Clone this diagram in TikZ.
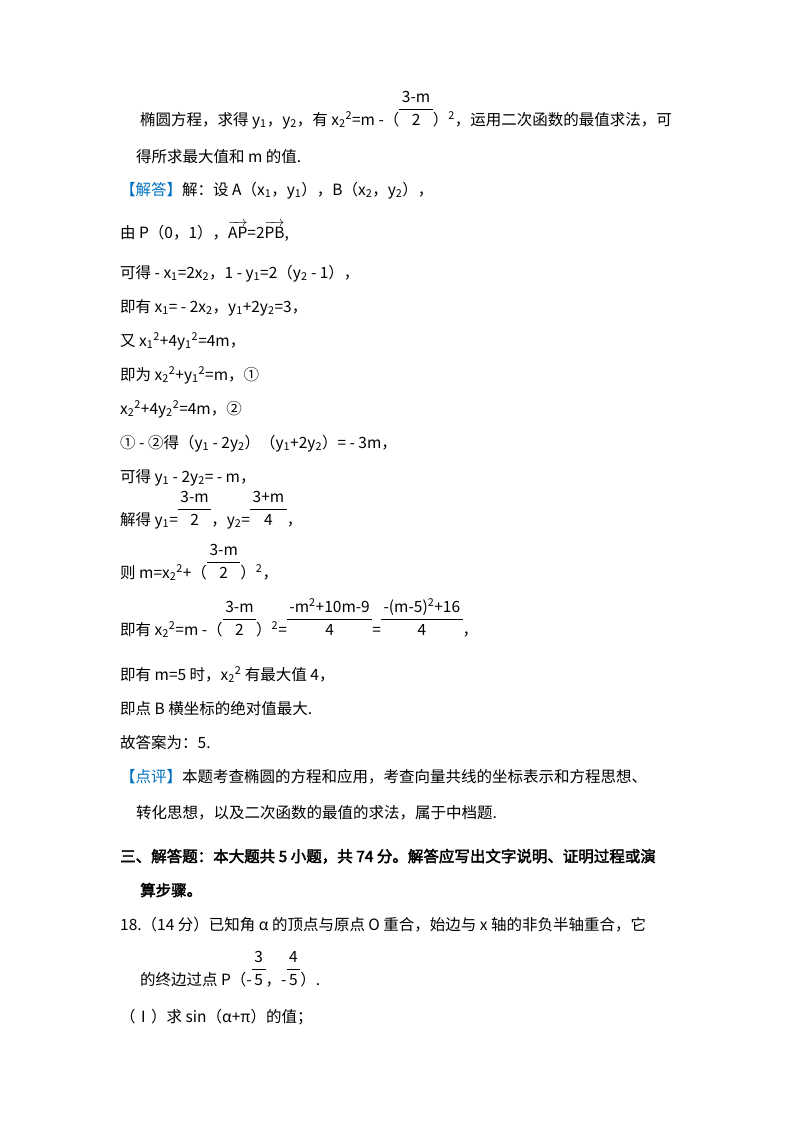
\documentclass[tikz,border=0pt]{standalone}
\usepackage{fontspec}
\usepackage{amsmath}
\setmainfont{Noto Sans CJK SC}
\newfontfamily\bcjk{Noto Sans CJK SC}[FakeBold=2.5]
\definecolor{jdblue}{RGB}{0,112,192}
\newcommand\sbs[1]{\textsubscript{#1}}
\newcommand\sps[1]{\textsuperscript{#1}}
\newcommand\fr[2]{{\renewcommand\arraystretch{1.25}\begin{tabular}[b]{@{\,}c@{\,}}#1\\\hline #2\end{tabular}}}
\newcommand\vecx[1]{$\overrightarrow{\mbox{#1}}$}
\tikzset{ln/.style={anchor=base west,inner sep=0pt,font=\fontsize{15.5}{18}\selectfont}}
\begin{document}
\begin{tikzpicture}[x=1pt,y=-1pt]
\useasboundingbox (0,0) rectangle (800,1132);
\node[ln] (l1) at (140,125) {椭圆方程，求得 y\sbs1，y\sbs2，有 x\sbs2\sps2=m -（\fr{3-m}{2}）\sps2，运用二次函数的最值求法，可};
\node[ln] (l2) at (136,162) {得所求最大值和 m 的值.};
\node[ln] (l3) at (120,195) {\textcolor{jdblue}{【解答】}解：设 A（x\sbs1，y\sbs1），B（x\sbs2，y\sbs2），};
\node[ln] (l4) at (120,238) {由 P（0，1），\vecx{AP}=2\vecx{PB},};
\node[ln] (l5) at (120,278) {可得 - x\sbs1=2x\sbs2，1 - y\sbs1=2（y\sbs2 - 1），};
\node[ln] (l6) at (120,312) {即有 x\sbs1= - 2x\sbs2，y\sbs1+2y\sbs2=3，};
\node[ln] (l7) at (120,346) {又 x\sbs1\sps2+4y\sbs1\sps2=4m，};
\node[ln] (l8) at (120,380) {即为 x\sbs2\sps2+y\sbs1\sps2=m，①};
\node[ln] (l9) at (120,414) {x\sbs2\sps2+4y\sbs2\sps2=4m，②};
\node[ln] (l10) at (120,448) {① - ②得（y\sbs1 - 2y\sbs2）（y\sbs1+2y\sbs2）= - 3m，};
\node[ln] (l11) at (120,482) {可得 y\sbs1 - 2y\sbs2= - m，};
\node[ln] (l12) at (120,525) {解得 y\sbs1=\fr{3-m}{2}，y\sbs2=\fr{3+m}{4}，};
\node[ln] (l13) at (120,578) {则 m=x\sbs2\sps2+（\fr{3-m}{2}）\sps2，};
\node[ln] (l14) at (120,635) {即有 x\sbs2\sps2=m -（\fr{3-m}{2}）\sps2=\fr{-m\sps2+10m-9}{4}=\fr{-(m-5)\sps2+16}{4}，};
\node[ln] (l15) at (120,680) {即有 m=5 时，x\sbs2\sps2 有最大值 4，};
\node[ln] (l16) at (120,714) {即点 B 横坐标的绝对值最大.};
\node[ln] (l17) at (120,748) {故答案为：5.};
\node[ln] (l18) at (120,782) {\textcolor{jdblue}{【点评】}本题考查椭圆的方程和应用，考查向量共线的坐标表示和方程思想、};
\node[ln] (l19) at (136,818) {转化思想，以及二次函数的最值的求法，属于中档题.};
\node[ln] (l20) at (120,862) {\bcjk 三、解答题：本大题共 5 小题，共 74 分。解答应写出文字说明、证明过程或演};
\node[ln] (l21) at (140,896) {\bcjk 算步骤。};
\node[ln] (l22) at (120,930) {18.（14 分）已知角 α 的顶点与原点 O 重合，始边与 x 轴的非负半轴重合，它};
\node[ln] (l23) at (140,985) {的终边过点 P（-\fr{3}{5}，-\fr{4}{5}）.};
\node[ln] (l24) at (120,1022) {（Ⅰ）求 sin（α+π）的值；};
\end{tikzpicture}
\end{document}
